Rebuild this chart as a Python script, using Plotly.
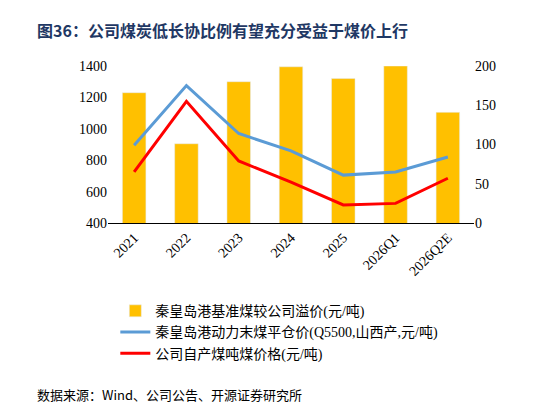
import plotly.graph_objs as go

categories = ['2021', '2022', '2023', '2024', '2025', '2026Q1', '2026Q2E']
premium = [1230, 905, 1300, 1395, 1320, 1400, 1105]          # left axis
qhd_price = [99, 175, 114, 92, 61, 65, 84]                    # right axis
company_price = [65, 155, 79, 52, 23, 25, 57]                 # right axis

title = '图36：公司煤炭低长协比例有望充分受益于煤价上行'
source = '数据来源：Wind、公司公告、开源证券研究所'
font_cn = 'Noto Sans CJK SC'

fig = go.Figure()
fig.add_trace(go.Bar(x=categories, y=premium, name='秦皇岛港基准煤较公司溢价(元/吨)',
                     marker_color='#FFC000', width=0.45))
fig.add_trace(go.Scatter(x=categories, y=qhd_price, yaxis='y2', mode='lines',
                         name='秦皇岛港动力末煤平仓价(Q5500,山西产,元/吨)',
                         line=dict(color='#5B9BD5', width=3)))
fig.add_trace(go.Scatter(x=categories, y=company_price, yaxis='y2', mode='lines',
                         name='公司自产煤吨煤价格(元/吨)',
                         line=dict(color='#FF0000', width=3)))

fig.update_layout(
    width=546, height=405,
    plot_bgcolor='white', paper_bgcolor='white',
    font=dict(family='Times New Roman, Liberation Serif, ' + font_cn, size=14, color='black'),
    margin=dict(l=100, r=80, t=58, b=190),
    xaxis=dict(tickangle=-45, showline=True, linecolor='black', ticks='', tickfont=dict(size=14)),
    yaxis=dict(range=[400, 1400], dtick=200, showgrid=False, showline=False, ticks=''),
    yaxis2=dict(range=[0, 200], dtick=50, overlaying='y', side='right', showgrid=False, ticks=''),
    legend=dict(x=0.02, y=-0.46, xanchor='left', yanchor='top', tracegroupgap=2,
                font=dict(family='Liberation Serif, ' + font_cn, size=14)),
    annotations=[
        dict(xref='paper', yref='paper', x=-0.2, y=1.0, yshift=50, xanchor='left', yanchor='top',
             text='<b>' + title + '</b>', showarrow=False,
             font=dict(family=font_cn, size=16, color='#1F3864')),
        dict(xref='paper', yref='paper', x=-0.2, y=0, yshift=-160, xanchor='left', yanchor='top',
             text=source, showarrow=False, font=dict(family=font_cn, size=13)),
    ],
)
fig.write_html('out.html')
